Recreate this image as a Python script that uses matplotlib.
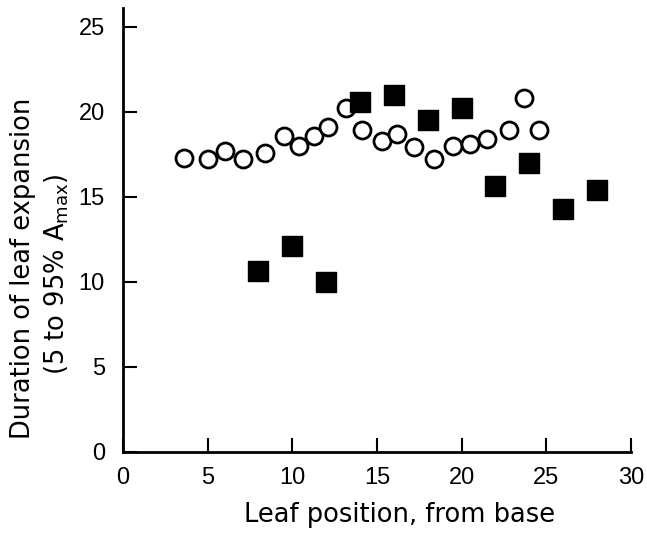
import matplotlib.pyplot as plt

plt.rcParams['font.family'] = ['Liberation Sans', 'DejaVu Sans']
plt.rcParams['mathtext.fontset'] = 'dejavusans'

# open circles
circ_x = [3.6, 5.0, 6.0, 7.1, 8.4, 9.5, 10.4, 11.3, 12.1, 13.2, 14.1, 15.3,
          16.2, 17.2, 18.4, 19.5, 20.5, 21.5, 22.8, 23.7, 24.6]
circ_y = [17.3, 17.2, 17.7, 17.2, 17.6, 18.6, 18.0, 18.6, 19.1, 20.2, 18.9, 18.3,
          18.7, 17.9, 17.2, 18.0, 18.1, 18.4, 18.9, 20.8, 18.9]

# filled squares
sq_x = [8, 10, 12, 14, 16, 18, 20, 22, 24, 26, 28]
sq_y = [10.6, 12.1, 10.0, 20.6, 21.0, 19.5, 20.2, 15.6, 17.0, 14.3, 15.4]

xticks = [0, 5, 10, 15, 20, 25, 30]
yticks = [0, 5, 10, 15, 20, 25]

fig = plt.figure(figsize=(6.47, 5.37), dpi=100)
ax = fig.add_axes([0.190, 0.159, 0.785, 0.826])

ax.scatter(circ_x, circ_y, s=150, facecolors='white', edgecolors='black',
           linewidths=2.0, zorder=3)
ax.scatter(sq_x, sq_y, s=190, marker='s', color='black', zorder=3)

ax.set_xlim(0, 30)
ax.set_ylim(0, 26.1)
ax.set_xticks(xticks)
ax.set_yticks(yticks)
for s in ['top', 'right']:
    ax.spines[s].set_visible(False)
for s in ['left', 'bottom']:
    ax.spines[s].set_linewidth(2.0)
ax.tick_params(direction='in', length=10, width=1.5, labelsize=17, pad=11)
ax.tick_params(axis='y', pad=13)

# axis titles, placed by hand like the original
lab = dict(family='DejaVu Sans', fontsize=18.5, ha='center', va='center')
fig.text(0.617, 0.041, 'Leaf position, from base', **lab)
fig.text(0.036, 0.50, 'Duration of leaf expansion', rotation=90, **lab)
fig.text(0.088, 0.49, r'(5 to 95% A$_{\rm max}$)', rotation=90, **lab)

fig.savefig('out.png', dpi=100)
